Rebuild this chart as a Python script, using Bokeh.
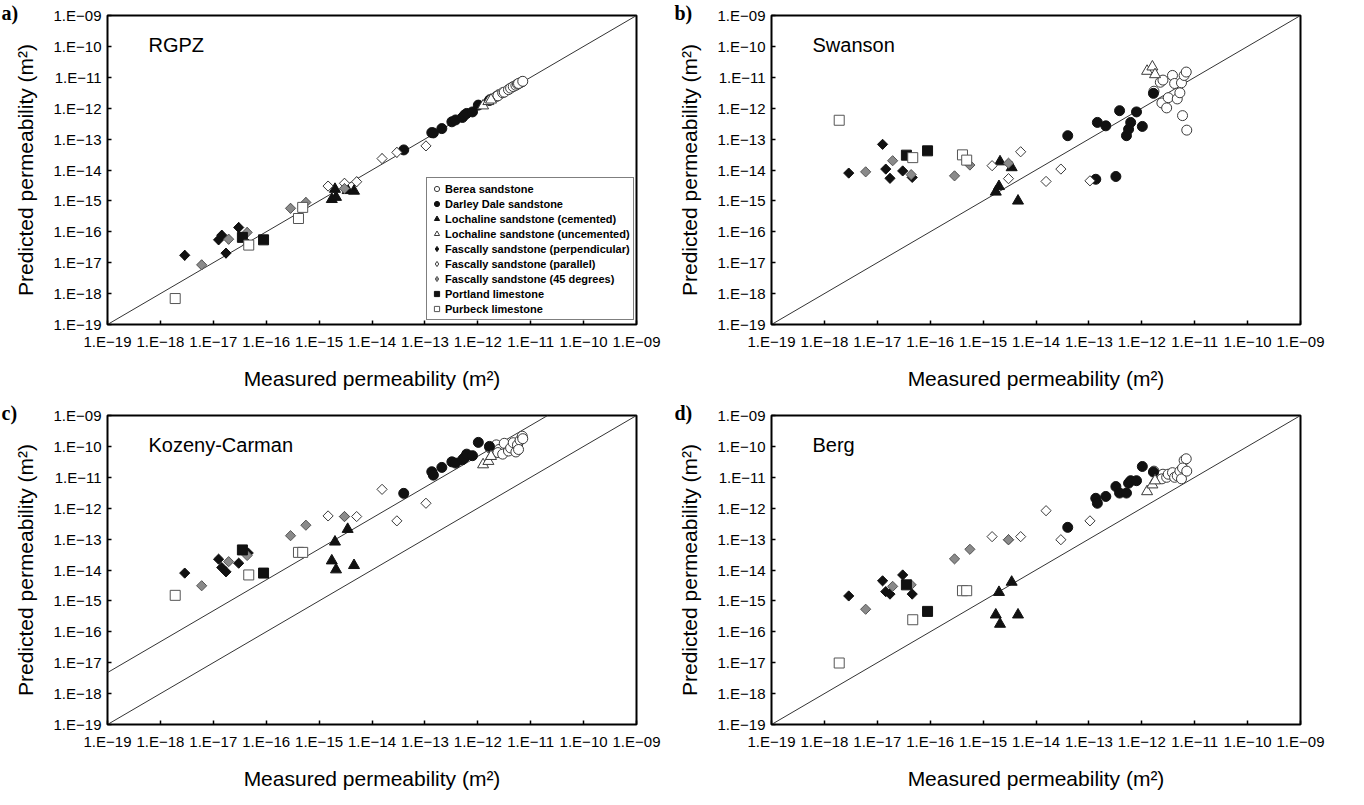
import numpy as np
from bokeh.plotting import figure
from bokeh.layouts import column, row
from bokeh.models import FixedTicker, CustomJSTickFormatter, Label, Title
from bokeh.embed import file_html
from bokeh.resources import INLINE

# ---------------- data (log10 of permeability, m^2) ----------------
decades = list(range(-19, -8))          # tick positions 1.E-19 ... 1.E-09
kc_offset = 1.68                        # Kozeny-Carman upper reference line (decades)

berea_meas    = [-11.77, -11.65, -11.60, -11.62, -11.53, -11.50, -11.42, -11.38, -11.33, -11.28, -11.25, -11.20, -11.16, -11.23, -11.15]
berea_rgpz    = [-11.72, -11.62, -11.56, -11.60, -11.50, -11.48, -11.40, -11.35, -11.30, -11.26, -11.22, -11.18, -11.14, -11.20, -11.13]
berea_swanson = [-11.45, -11.16, -11.09, -11.83, -11.99, -11.66, -10.94, -11.20, -11.70, -11.50, -11.18, -10.94, -10.83, -12.24, -12.71]
berea_kc      = [-10.05, -9.95, -10.10, -10.20, -10.25, -9.90, -10.15, -10.05, -9.88, -10.18, -9.95, -9.80, -9.67, -10.10, -9.75]
berea_berg    = [-10.80, -10.95, -10.90, -11.05, -11.00, -10.90, -10.85, -11.00, -10.95, -10.80, -11.05, -10.45, -10.40, -10.70, -10.80]

darley_meas    = [-13.40, -12.87, -12.84, -12.68, -12.49, -12.42, -12.29, -12.25, -12.21, -12.10, -11.99, -11.78]
darley_rgpz    = [-13.35, -12.79, -12.80, -12.66, -12.44, -12.38, -12.30, -12.22, -12.17, -12.12, -11.90, -11.75]
darley_swanson = [-12.89, -14.30, -12.46, -12.57, -14.21, -12.08, -12.89, -12.68, -12.46, -12.12, -12.59, -11.52]
darley_kc      = [-11.52, -10.82, -10.93, -10.68, -10.50, -10.54, -10.43, -10.36, -10.25, -10.30, -9.87, -10.00]
darley_berg    = [-12.62, -11.68, -11.84, -11.62, -11.30, -11.51, -11.51, -11.19, -11.11, -11.11, -10.65, -10.83]

loch_cem_meas    = [-14.76, -14.70, -14.68, -14.46, -14.34]
loch_cem_rgpz    = [-14.95, -14.62, -14.88, -14.66, -14.68]
loch_cem_swanson = [-14.71, -14.53, -13.73, -13.92, -15.00]
loch_cem_kc      = [-13.70, -13.09, -13.99, -12.68, -13.85]
loch_cem_berg    = [-15.45, -14.72, -15.75, -14.39, -15.45]

loch_unc_meas    = [-11.90, -11.80, -11.75]
loch_unc_rgpz    = [-11.92, -11.78, -11.73]
loch_unc_swanson = [-10.80, -10.66, -10.91]
loch_unc_kc      = [-10.59, -10.48, -10.32]
loch_unc_berg    = [-11.46, -11.24, -11.11]

fasc_perp_meas    = [-17.54, -16.90, -16.84, -16.76, -16.52, -16.34]
fasc_perp_rgpz    = [-16.76, -16.26, -16.11, -16.69, -15.86, -16.40]
fasc_perp_swanson = [-14.10, -13.17, -13.97, -14.27, -14.03, -14.24]
fasc_perp_kc      = [-14.10, -13.65, -13.92, -14.06, -13.78, -13.45]
fasc_perp_berg    = [-14.84, -14.35, -14.70, -14.78, -14.16, -14.78]

fasc_par_meas    = [-14.83, -14.52, -14.29, -13.81, -13.53, -12.98]
fasc_par_rgpz    = [-14.52, -14.43, -14.38, -13.63, -13.43, -13.22]
fasc_par_swanson = [-13.86, -14.28, -13.41, -14.37, -13.97, -14.35]
fasc_par_kc      = [-12.25, -12.27, -12.27, -11.39, -12.41, -11.84]
fasc_par_berg    = [-12.92, -13.02, -12.92, -12.08, -13.02, -12.41]

fasc_45_meas    = [-17.22, -16.71, -16.36, -15.54, -15.25, -14.52]
fasc_45_rgpz    = [-17.07, -16.24, -16.02, -15.24, -15.05, -14.60]
fasc_45_swanson = [-14.06, -13.70, -14.15, -14.19, -13.84, -13.78]
fasc_45_kc      = [-14.51, -13.73, -13.53, -12.89, -12.55, -12.27]
fasc_45_berg    = [-15.27, -14.53, -14.48, -13.64, -13.33, -13.02]

portland_meas    = [-16.45, -16.05]
portland_rgpz    = [-16.18, -16.26]
portland_swanson = [-13.52, -13.38]
portland_kc      = [-13.35, -14.10]
portland_berg    = [-14.48, -15.34]

purbeck_meas    = [-17.72, -16.33, -15.39, -15.31]
purbeck_rgpz    = [-18.16, -16.43, -15.57, -15.21]
purbeck_swanson = [-12.39, -13.60, -13.51, -13.68]
purbeck_kc      = [-14.82, -14.16, -13.43, -13.43]
purbeck_berg    = [-17.01, -15.61, -14.67, -14.67]

series = [
    ("Berea sandstone", berea_meas,
     dict(RGPZ=berea_rgpz, Swanson=berea_swanson, KC=berea_kc, Berg=berea_berg)),
    ("Darley Dale sandstone", darley_meas,
     dict(RGPZ=darley_rgpz, Swanson=darley_swanson, KC=darley_kc, Berg=darley_berg)),
    ("Lochaline sandstone (cemented)", loch_cem_meas,
     dict(RGPZ=loch_cem_rgpz, Swanson=loch_cem_swanson, KC=loch_cem_kc, Berg=loch_cem_berg)),
    ("Lochaline sandstone (uncemented)", loch_unc_meas,
     dict(RGPZ=loch_unc_rgpz, Swanson=loch_unc_swanson, KC=loch_unc_kc, Berg=loch_unc_berg)),
    ("Fascally sandstone (perpendicular)", fasc_perp_meas,
     dict(RGPZ=fasc_perp_rgpz, Swanson=fasc_perp_swanson, KC=fasc_perp_kc, Berg=fasc_perp_berg)),
    ("Fascally sandstone (parallel)", fasc_par_meas,
     dict(RGPZ=fasc_par_rgpz, Swanson=fasc_par_swanson, KC=fasc_par_kc, Berg=fasc_par_berg)),
    ("Fascally sandstone (45 degrees)", fasc_45_meas,
     dict(RGPZ=fasc_45_rgpz, Swanson=fasc_45_swanson, KC=fasc_45_kc, Berg=fasc_45_berg)),
    ("Portland limestone", portland_meas,
     dict(RGPZ=portland_rgpz, Swanson=portland_swanson, KC=portland_kc, Berg=portland_berg)),
    ("Purbeck limestone", purbeck_meas,
     dict(RGPZ=purbeck_rgpz, Swanson=purbeck_swanson, KC=purbeck_kc, Berg=purbeck_berg)),
]

# ---------------- styles ----------------
BLACK = "#111111"
OPEN_LINE = "#3a3a3a"
styles = [
    dict(marker="circle", size=10, fill_color="white", line_color=OPEN_LINE),
    dict(marker="circle", size=10, fill_color=BLACK, line_color=BLACK),
    dict(marker="triangle", size=11, fill_color=BLACK, line_color=BLACK),
    dict(marker="triangle", size=11, fill_color="white", line_color=OPEN_LINE),
    dict(marker="rdiamond", size=7.2, fill_color=BLACK, line_color=BLACK),
    dict(marker="rdiamond", size=7.2, fill_color="white", line_color=OPEN_LINE),
    dict(marker="rdiamond", size=7.2, fill_color="#8a8a8a", line_color="#555555"),
    dict(marker="square", size=10, fill_color=BLACK, line_color=BLACK),
    dict(marker="square", size=10, fill_color="white", line_color="#555555"),
]

panels = [
    dict(letter="a)", name="RGPZ", key="RGPZ", left=107, right=36, top=15, bottom=68, letter_dx=-106, legend=True),
    dict(letter="b)", name="Swanson", key="Swanson", left=99, right=48, top=15, bottom=68, letter_dx=-97, legend=False),
    dict(letter="c)", name="Kozeny-Carman", key="KC", left=107, right=36, top=23, bottom=65, letter_dx=-106, legend=False),
    dict(letter="d)", name="Berg", key="Berg", left=99, right=48, top=23, bottom=65, letter_dx=-97, legend=False),
]

FW, FH = 529, 309
tick_code = """
const e = Math.round(Math.log10(tick));
const a = Math.abs(e);
return "1.E\u2212" + (a < 10 ? "0" + a : String(a));
"""


def make_panel(cfg):
    p = figure(x_axis_type="log", y_axis_type="log",
               x_range=(1e-19, 1e-9), y_range=(1e-19, 1e-9),
               frame_width=FW, frame_height=FH,
               min_border_left=cfg["left"], min_border_right=cfg["right"],
               min_border_top=cfg["top"], min_border_bottom=cfg["bottom"],
               output_backend="svg", toolbar_location=None)
    p.grid.visible = False
    p.background_fill_color = "white"
    p.border_fill_color = "white"
    p.outline_line_color = "black"
    p.outline_line_width = 2
    p.outline_line_alpha = 1.0

    for ax in (p.xaxis[0], p.yaxis[0]):
        ax.ticker = FixedTicker(ticks=[10.0 ** d for d in decades])
        ax.formatter = CustomJSTickFormatter(code=tick_code)
        ax.axis_line_color = None
        ax.major_tick_in = 4
        ax.major_tick_out = 0
        ax.minor_tick_in = 0
        ax.minor_tick_out = 0
        ax.major_tick_line_color = "black"
        ax.major_tick_line_width = 1.5
        ax.major_label_text_font = "Liberation Sans"
        ax.major_label_text_font_size = "15px"
        ax.major_label_text_color = "black"
        ax.axis_label_text_font = "Liberation Sans"
        ax.axis_label_text_font_size = "21px"
        ax.axis_label_text_font_style = "normal"
        ax.axis_label_text_color = "black"
    p.xaxis.major_label_standoff = 8
    p.yaxis.major_label_standoff = 6
    p.xaxis.axis_label = "Measured permeability (m\u00b2)"
    p.yaxis.axis_label = "Predicted permeability (m\u00b2)"
    p.xaxis.axis_label_standoff = 14
    p.yaxis.axis_label_standoff = 14

    # 1:1 reference line
    p.line([1e-19, 1e-9], [1e-19, 1e-9], line_color="#333333", line_width=1)
    if cfg["key"] == "KC":
        p.line([1e-19, 10 ** (-9 - kc_offset)], [10 ** (-19 + kc_offset), 1e-9],
               line_color="#333333", line_width=1)

    for (label, meas, preds), st in zip(series, styles):
        xs = [10.0 ** v for v in meas]
        ys = [10.0 ** v for v in preds[cfg["key"]]]
        if st["marker"] == "rdiamond":
            # diamond (rotated square) marks; a plain diamond underneath carries the legend glyph
            if cfg["legend"]:
                p.scatter(xs, ys, marker="diamond", size=st["size"] * 1.38,
                          fill_color=st["fill_color"], line_color=st["line_color"],
                          line_width=1, legend_label=label)
            p.scatter(xs, ys, marker="square", size=st["size"], angle=np.pi / 4,
                      fill_color=st["fill_color"], line_color=st["line_color"], line_width=1)
        else:
            kw = dict(marker=st["marker"], size=st["size"], fill_color=st["fill_color"],
                      line_color=st["line_color"], line_width=1)
            if cfg["legend"]:
                kw["legend_label"] = label
            p.scatter(xs, ys, **kw)

    # panel letter, drawn as a compact title just above the top-left corner
    p.add_layout(Title(text=cfg["letter"], align="left", offset=cfg["letter_dx"],
                       standoff=-16, vertical_align="bottom",
                       text_font="Liberation Serif", text_font_style="bold",
                       text_font_size="20px", text_color="black"), "above")
    p.add_layout(Label(x=41, y=FH - 29, x_units="screen", y_units="screen",
                       text=cfg["name"], text_font="Liberation Sans",
                       text_font_size="20px", text_color="black", text_baseline="alphabetic"))

    if cfg["legend"]:
        leg = p.legend[0]
        leg.location = (319, 4)
        leg.margin = 0
        leg.padding = 3
        leg.spacing = 0
        leg.glyph_width = 13
        leg.glyph_height = 15
        leg.label_height = 15
        leg.label_standoff = 2
        leg.label_text_font = "Liberation Sans"
        leg.label_text_font_style = "bold"
        leg.label_text_font_size = "11px"
        leg.label_text_color = "black"
        leg.border_line_color = "black"
        leg.border_line_width = 1
        leg.background_fill_color = "white"
        leg.background_fill_alpha = 1.0
    return p


figs = [make_panel(c) for c in panels]
layout = column(row(figs[0], figs[1]), row(figs[2], figs[3]))

open("out.html", "w").write(file_html(layout, INLINE))
